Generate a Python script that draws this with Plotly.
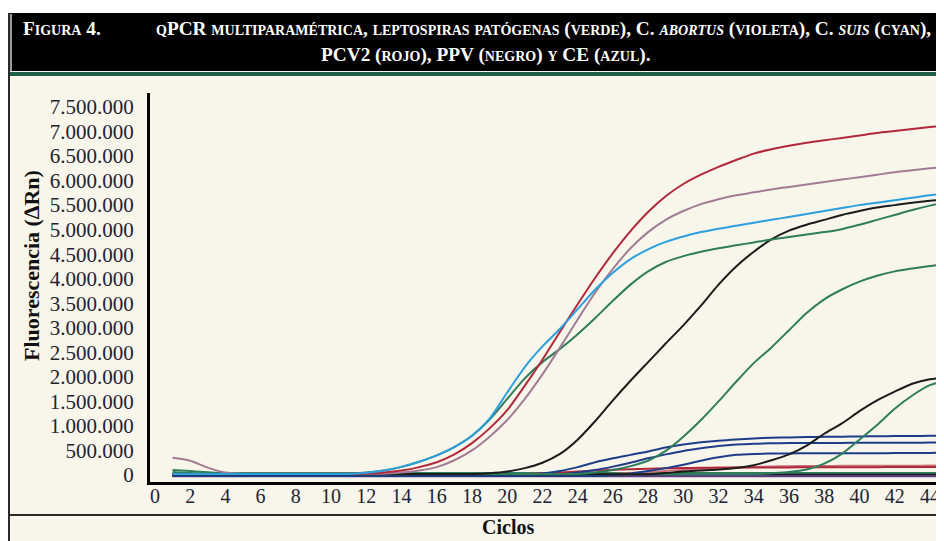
import plotly.graph_objects as go

cycles = list(range(1, 46))

k = 1000
M = 1000000

pcv2 = [20*k]*11 + [30*k, 50*k, 90*k, 160*k, 260*k, 420*k, 650*k, 950*k, 1.32*M, 1.82*M, 2.35*M, 2.92*M,
        3.48*M, 4.02*M, 4.52*M, 4.97*M, 5.36*M, 5.68*M, 5.93*M, 6.12*M, 6.28*M, 6.42*M, 6.55*M, 6.64*M,
        6.71*M, 6.77*M, 6.82*M, 6.87*M, 6.92*M, 6.97*M, 7.01*M, 7.05*M, 7.09*M, 7.13*M]

abortus = [350*k, 290*k, 150*k, 50*k] + [25*k]*9 + [50*k, 90*k, 160*k, 300*k, 500*k, 780*k, 1.12*M, 1.55*M,
           2.05*M, 2.6*M, 3.17*M, 3.72*M, 4.2*M, 4.62*M, 4.95*M, 5.2*M, 5.38*M, 5.52*M, 5.62*M, 5.7*M,
           5.76*M, 5.82*M, 5.87*M, 5.92*M, 5.97*M, 6.02*M, 6.07*M, 6.12*M, 6.17*M, 6.21*M, 6.25*M, 6.29*M]

suis = [20*k]*11 + [45*k, 90*k, 165*k, 270*k, 400*k, 570*k, 800*k, 1.15*M, 1.68*M, 2.2*M, 2.62*M, 2.98*M,
        3.38*M, 3.78*M, 4.12*M, 4.4*M, 4.6*M, 4.75*M, 4.86*M, 4.95*M, 5.02*M, 5.08*M, 5.14*M, 5.2*M,
        5.26*M, 5.32*M, 5.38*M, 5.44*M, 5.5*M, 5.55*M, 5.6*M, 5.65*M, 5.7*M, 5.74*M]

lepto_a = [100*k, 80*k, 55*k] + [35*k]*8 + [50*k, 90*k, 165*k, 270*k, 400*k, 570*k, 800*k, 1.13*M, 1.55*M,
           1.97*M, 2.3*M, 2.57*M, 2.87*M, 3.2*M, 3.55*M, 3.88*M, 4.15*M, 4.34*M, 4.46*M, 4.55*M, 4.62*M,
           4.68*M, 4.74*M, 4.8*M, 4.85*M, 4.9*M, 4.95*M, 5.01*M, 5.1*M, 5.2*M, 5.3*M, 5.4*M, 5.49*M, 5.57*M]

lepto_b = [20*k]*24 + [50*k, 100*k, 180*k, 290*k, 490*k, 780*k, 1.12*M, 1.5*M, 1.9*M, 2.28*M, 2.6*M,
           2.95*M, 3.3*M, 3.58*M, 3.78*M, 3.94*M, 4.06*M, 4.15*M, 4.21*M, 4.26*M, 4.3*M]

lepto_c = [15*k]*34 + [35*k, 60*k, 110*k, 230*k, 430*k, 720*k, 1.02*M, 1.35*M, 1.62*M, 1.83*M, 1.93*M]

lepto_neg = [60*k] + [38*k]*44

ppv_a = [20*k]*18 + [35*k, 70*k, 140*k, 250*k, 430*k, 720*k, 1.1*M, 1.52*M, 1.92*M, 2.3*M, 2.68*M,
        3.05*M, 3.45*M, 3.88*M, 4.25*M, 4.55*M, 4.8*M, 4.98*M, 5.1*M, 5.2*M, 5.3*M, 5.38*M, 5.45*M,
        5.5*M, 5.55*M, 5.59*M, 5.62*M]

ppv_b = [15*k]*28 + [40*k, 70*k, 90*k, 110*k, 140*k, 200*k, 300*k, 420*k, 600*k, 840*k, 1.05*M, 1.3*M,
        1.52*M, 1.7*M, 1.86*M, 1.95*M, 1.99*M]

ppv_neg = [5*k]*45

ce_a = [-20*k]*20 + [0, 30*k, 80*k, 160*k, 260*k, 340*k, 410*k, 480*k, 560*k, 620*k, 665*k, 700*k, 725*k,
       745*k, 758*k, 766*k, 772*k, 777*k, 781*k, 785*k, 789*k, 792*k, 795*k, 798*k, 800*k]

ce_b = [-20*k]*22 + [10*k, 50*k, 100*k, 170*k, 250*k, 340*k, 420*k, 490*k, 545*k, 590*k, 620*k, 638*k,
       646*k, 650*k, 652*k, 653*k, 654*k, 655*k, 656*k, 657*k, 658*k, 660*k, 662*k]

ce_c = [-20*k]*25 + [0, 30*k, 80*k, 140*k, 210*k, 290*k, 360*k, 410*k, 430*k, 437*k, 440*k, 441*k, 442*k,
       443*k, 444*k, 445*k, 446*k, 448*k, 450*k, 452*k]

pcv2_low_a = [0]*19 + [10*k, 20*k, 35*k, 50*k, 70*k, 90*k, 105*k, 118*k, 128*k, 136*k, 142*k, 146*k, 150*k,
             152*k, 153*k, 154*k, 155*k, 156*k, 157*k, 158*k, 159*k, 160*k, 161*k, 162*k, 163*k, 165*k]

pcv2_low_b = [5*k]*25 + [20*k, 40*k, 60*k, 80*k, 100*k, 120*k, 135*k, 150*k, 162*k, 172*k, 180*k, 184*k,
             185*k, 186*k, 187*k, 188*k, 189*k, 190*k, 191*k, 192*k]

abortus_neg = [-25*k]*45

y_ticks = list(range(0, 7500001, 500000))
x_ticks = list(range(0, 45, 2))

RED = "#b1283b"
RED_LIGHT = "#c9727a"
VIOLET = "#a27c95"
CYAN = "#2b9fe0"
GREEN = "#2f7d5c"
BLACK = "#1b1b1b"
NAVY = "#1d3d8a"
PURPLE = "#5b3a86"

series = [
    (lepto_neg, GREEN), (ppv_neg, BLACK), (abortus_neg, PURPLE),
    (pcv2_low_b, RED_LIGHT), (pcv2_low_a, RED),
    (ce_c, NAVY), (ce_b, NAVY), (ce_a, NAVY),
    (lepto_c, GREEN), (ppv_b, BLACK), (lepto_b, GREEN), (ppv_a, BLACK),
    (lepto_a, GREEN), (abortus, VIOLET), (pcv2, RED), (suis, CYAN),
]

fig = go.Figure()
for vals, col in series:
    fig.add_trace(go.Scatter(x=cycles, y=vals, mode="lines",
                             line=dict(color=col, width=2, shape="spline", smoothing=0.8),
                             showlegend=False, hoverinfo="skip"))

# page body has an 8px margin; the figure is sized so that it fills the window
OFF = 8
W, H = 944 - OFF, 541 - OFF
L, R, T, B = 142, 0, 85, 59
PW, PH = W - L - R, H - T - B


def fx(px):
    return (px - OFF - L) / PW


def fy(py):
    return (H - B - (py - OFF)) / PH


BG = "#f8f6ea"
SERIF = "Liberation Serif, Times New Roman, serif"

shapes = [
    dict(type="rect", xref="paper", yref="paper", x0=fx(0), x1=fx(960), y0=fy(0), y1=fy(13),
         fillcolor="white", line=dict(width=0), layer="below"),
    dict(type="rect", xref="paper", yref="paper", x0=fx(8), x1=fx(960), y0=fy(13), y1=fy(71),
         fillcolor="black", line=dict(width=0)),
    dict(type="line", xref="paper", yref="paper", x0=fx(11), x1=fx(11), y0=fy(14), y1=fy(71),
         line=dict(color="#9a9a9a", width=2)),
    dict(type="rect", xref="paper", yref="paper", x0=fx(10), x1=fx(960), y0=fy(72), y1=fy(76),
         fillcolor="#1f5f45", line=dict(width=0)),
    dict(type="line", xref="paper", yref="paper", x0=fx(9), x1=fx(9), y0=fy(13), y1=fy(560),
         line=dict(color="#2a2a2a", width=2)),
    dict(type="line", xref="paper", yref="paper", x0=fx(9), x1=fx(960), y0=fy(515), y1=fy(515),
         line=dict(color="#2a2a2a", width=2)),
]

hdr_font = dict(family=SERIF, size=19.3, color="white", weight="bold", variant="small-caps")
annotations = [
    dict(text="Figura 4.", xref="paper", yref="paper", x=fx(21), y=fy(29), xanchor="left",
         yanchor="middle", showarrow=False, font=hdr_font),
    dict(text="qPCR multiparamétrica, leptospiras patógenas (verde), C. <i>abortus</i> (violeta), "
              "C. <i>suis</i> (cyan),",
         xref="paper", yref="paper", x=fx(154), y=fy(29), xanchor="left", yanchor="middle",
         showarrow=False, font=hdr_font),
    dict(text="PCV2 (rojo), PPV (negro) y CE (azul).", xref="paper", yref="paper", x=fx(319),
         y=fy(55), xanchor="left", yanchor="middle", showarrow=False, font=hdr_font),
    dict(text="Fluorescencia (∆Rn)", xref="paper", yref="paper", x=fx(31), y=fy(266),
         xanchor="center", yanchor="middle", textangle=-90, showarrow=False,
         font=dict(family=SERIF, size=22, color="#111", weight="bold")),
    dict(text="Ciclos", xref="paper", yref="paper", x=fx(508), y=fy(527), xanchor="center",
         yanchor="middle", showarrow=False,
         font=dict(family=SERIF, size=20, color="#111", weight="bold")),
]

fig.update_layout(
    width=W, height=H,
    margin=dict(l=L, r=R, t=T, b=B, pad=0, autoexpand=False),
    paper_bgcolor=BG, plot_bgcolor=BG,
    separators=",.",
    shapes=shapes,
    annotations=annotations,
    xaxis=dict(range=[-0.28, 44.8], tickmode="array", tickvals=x_ticks,
               ticktext=[str(t) for t in x_ticks], showgrid=False, zeroline=False,
               showline=True, linecolor="black", linewidth=3, ticks="",
               ticklabelstandoff=-6, automargin=False,
               tickfont=dict(family=SERIF, size=20, color="#222233")),
    yaxis=dict(range=[-143000, 7785000], tickmode="array", tickvals=y_ticks,
               tickformat=",d", showgrid=False, zeroline=False,
               showline=True, linecolor="black", linewidth=3, ticks="",
               ticklabelstandoff=9, automargin=False,
               tickfont=dict(family=SERIF, size=21, color="#222233")),
)

fig.write_html("out.html")
